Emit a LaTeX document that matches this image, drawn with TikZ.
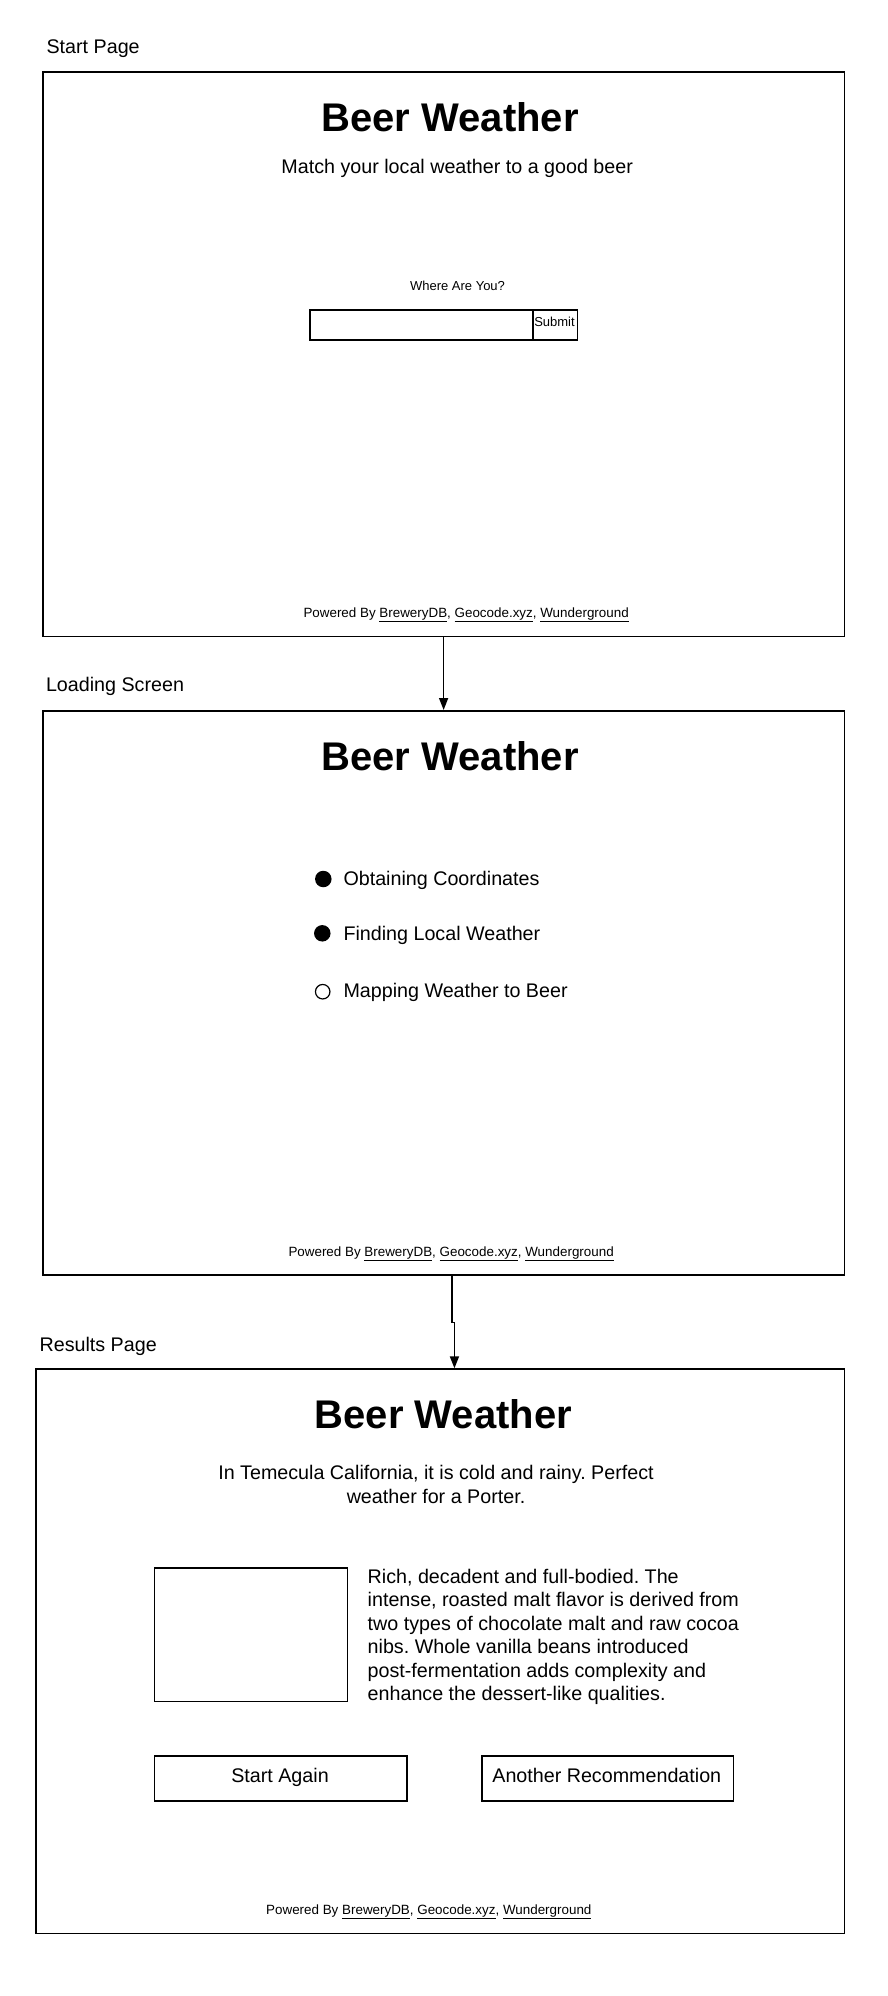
\documentclass[tikz,border=0pt]{standalone}
\usepackage{fontspec}
\setmainfont{Liberation Sans}
\usetikzlibrary{arrows.meta}
\frenchspacing

\begin{document}
\begin{tikzpicture}[x=1pt, y=-1pt,
  frame/.style={draw, line width=1.6pt, inner sep=0pt, anchor=north west},
  box/.style={draw, line width=1.5pt, inner sep=0pt, anchor=north west},
  pagelabel/.style={anchor=base west, inner sep=0pt, font=\fontsize{19.7}{24}\selectfont},
  title/.style={anchor=base, inner sep=0pt, font=\fontsize{40}{48}\selectfont\bfseries},
  body/.style={inner sep=0pt, font=\fontsize{19.7}{24}\selectfont},
  small/.style={anchor=base, inner sep=0pt, font=\fontsize{13}{16}\selectfont},
  footer/.style={anchor=base west, inner sep=0pt, font=\fontsize{13.4}{16}\selectfont},
  dot/.style={circle, fill=black, inner sep=0pt, minimum size=16.5pt},
  ring/.style={circle, draw=black, line width=1.2pt, inner sep=0pt, minimum size=14.5pt},
  flow/.style={line width=1.6pt, -{Triangle[length=12pt, width=9pt]}}
]
\useasboundingbox (0,0) rectangle (888,1996);

% ---------- Start page ----------
\node[pagelabel] (startlbl) at (46.4,54) {Start Page};
\node[frame, minimum width=801.6pt, minimum height=564.5pt] (start) at (42,71.3) {};
\node[title] (t1) at (450.2,131.7) {Beer Weather};
\node[body, anchor=base] (sub) at (457.2,173.3) {Match your local weather to a good beer};
\node[small] (where) at (457.5,290) {Where Are You?};
\node[box, minimum width=222.7pt, minimum height=30pt] (input) at (309.3,309.3) {};
\node[box, minimum width=44.7pt, minimum height=30pt] (submit) at (532,309.3) {};
\node[small] (submittxt) at (554.5,326.7) {Submit};
\node[footer] (f1) at (303.3,617.3) {Powered By \underline{BreweryDB}, \underline{Geocode.xyz}, \underline{Wunderground}};

% ---------- Loading screen ----------
\node[pagelabel] (loadlbl) at (45.8,691.5) {Loading Screen};
\node[frame, minimum width=801.6pt, minimum height=564pt] (load) at (42,710) {};
\node[title] (t2) at (450.2,770.4) {Beer Weather};
\node[dot] (b1) at (323.3,879) {};
\node[body, anchor=base west] (s1) at (343.3,885.7) {Obtaining Coordinates};
\node[dot] (b2) at (322.3,933.3) {};
\node[body, anchor=base west] (s2) at (343.3,940) {Finding Local Weather};
\node[ring] (b3) at (322.7,991.7) {};
\node[body, anchor=base west] (s3) at (343.3,997.7) {Mapping Weather to Beer};
\node[footer] (f2) at (288.3,1256) {Powered By \underline{BreweryDB}, \underline{Geocode.xyz}, \underline{Wunderground}};

% ---------- Results page ----------
\node[pagelabel] (reslbl) at (39.4,1351) {Results Page};
\node[frame, minimum width=808.3pt, minimum height=564.2pt] (res) at (35.3,1368.3) {};
\node[title] (t3) at (443.4,1428.7) {Beer Weather};
\node[body, anchor=base] (r1) at (436,1479) {In Temecula California, it is cold and rainy. Perfect};
\node[body, anchor=base] (r2) at (436,1503) {weather for a Porter.};
\node[box, minimum width=193pt, minimum height=133.4pt] (img) at (153.8,1567.3) {};
\node[body, anchor=base west] (d1) at (367.5,1583) {Rich, decadent and full-bodied. The};
\node[body, anchor=base west] (d2) at (367.5,1606.5) {intense, roasted malt flavor is derived from};
\node[body, anchor=base west] (d3) at (367.5,1630) {two types of chocolate malt and raw cocoa};
\node[body, anchor=base west] (d4) at (367.5,1653.5) {nibs. Whole vanilla beans introduced};
\node[body, anchor=base west] (d5) at (367.5,1677) {post-fermentation adds complexity and};
\node[body, anchor=base west] (d6) at (367.5,1700.5) {enhance the dessert-like qualities.};
\node[box, minimum width=252.5pt, minimum height=45pt] (again) at (153.8,1755) {};
\node[body, anchor=base] (againtxt) at (280,1782) {Start Again};
\node[box, minimum width=251.6pt, minimum height=45pt] (another) at (481.2,1755) {};
\node[body, anchor=base] (anothertxt) at (606.8,1782) {Another Recommendation};
\node[footer] (f3) at (266,1914.3) {Powered By \underline{BreweryDB}, \underline{Geocode.xyz}, \underline{Wunderground}};

% ---------- Flow between pages ----------
\draw[flow] (start.south) -- (load.north);
\draw[flow] ([xshift=8.2pt]load.south) -- ++(0,47) -| ([xshift=14.2pt]res.north);
\end{tikzpicture}
\end{document}
